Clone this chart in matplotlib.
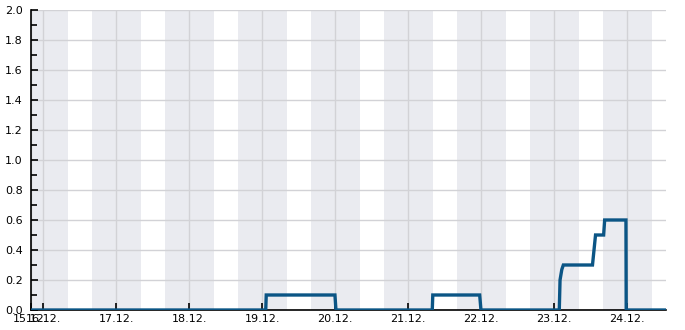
import datetime as dt
import matplotlib
matplotlib.use("Agg")
import matplotlib.pyplot as plt
import matplotlib.dates as mdates
from matplotlib.ticker import MultipleLocator

# measured points (time, value)
times = [
    "2023-12-15 20:00", "2023-12-19 01:10", "2023-12-19 01:20",
    "2023-12-19 23:55", "2023-12-20 00:15", "2023-12-21 07:55",
    "2023-12-21 08:05", "2023-12-21 23:30", "2023-12-21 23:55",
    "2023-12-23 01:40", "2023-12-23 01:55", "2023-12-23 02:30",
    "2023-12-23 03:00", "2023-12-23 12:35", "2023-12-23 13:05",
    "2023-12-23 13:35", "2023-12-23 16:15", "2023-12-23 16:35",
    "2023-12-23 23:35", "2023-12-23 23:40", "2023-12-24 12:45",
]
values = [
    0.0, 0.0, 0.1,
    0.1, 0.0, 0.0,
    0.1, 0.1, 0.0,
    0.0, 0.2, 0.27,
    0.3, 0.3, 0.4,
    0.5, 0.5, 0.6,
    0.6, 0.0, 0.0,
]
day_labels = ["15.12.", "16.12.", "17.12.", "18.12.", "19.12.",
              "20.12.", "21.12.", "22.12.", "23.12.", "24.12."]

x = [dt.datetime.strptime(t, "%Y-%m-%d %H:%M") for t in times]
xmin, xmax = x[0], x[-1]

fig = plt.figure(figsize=(6.85, 3.3), dpi=100)
ax = fig.add_axes([31 / 685, 20 / 330, 635 / 685, 300 / 330])

# night bands 16:00 - 08:00
day = dt.datetime(2023, 12, 15)
while day < xmax:
    start = day + dt.timedelta(hours=16)
    end = day + dt.timedelta(hours=32)
    ax.axvspan(start, end, color="#eaebf0", lw=0, zorder=0)
    day += dt.timedelta(days=1)

ax.plot(x, values, color="#0b5585", lw=2.4, zorder=3,
        solid_joinstyle="miter")

ax.set_xlim(xmin, xmax)
ax.set_ylim(0, 2.0)

ticks = [xmin] + [dt.datetime(2023, 12, d) for d in range(16, 25)]
ax.set_xticks(ticks)
ax.set_xticklabels(day_labels)
ax.yaxis.set_major_locator(MultipleLocator(0.2))
ax.yaxis.set_minor_locator(MultipleLocator(0.1))
ax.yaxis.set_major_formatter(matplotlib.ticker.FormatStrFormatter("%.1f"))

ax.grid(True, which="major", color="#d2d2d6", lw=1, zorder=1)
ax.set_axisbelow(True)
for side in ["top", "right"]:
    ax.spines[side].set_visible(False)
ax.spines["left"].set_linewidth(1.2)
ax.spines["bottom"].set_linewidth(1.2)
ax.tick_params(axis="both", which="major", direction="in", length=5,
               width=1.2, labelsize=8, pad=3)
ax.tick_params(axis="y", which="minor", direction="in", length=4, width=1.2)
ax.tick_params(axis="y", which="both", pad=6)

fig.savefig("out.png", dpi=100)
